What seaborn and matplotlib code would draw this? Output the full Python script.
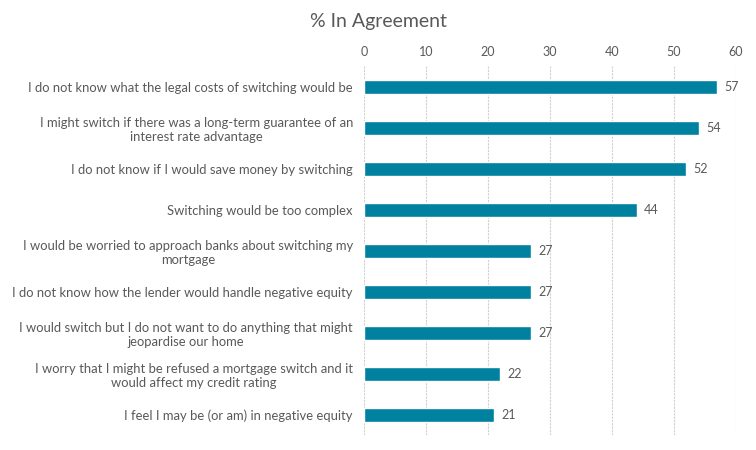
import pandas as pd
import seaborn as sns
import matplotlib.pyplot as plt

statements = [
    "I do not know what the legal costs of switching would be",
    "I might switch if there was a long-term guarantee of an\ninterest rate advantage",
    "I do not know if I would save money by switching",
    "Switching would be too complex",
    "I would be worried to approach banks about switching my\nmortgage",
    "I do not know how the lender would handle negative equity",
    "I would switch but I do not want to do anything that might\njeopardise our home",
    "I worry that I might be refused a mortgage switch and it\nwould affect my credit rating",
    "I feel I may be (or am) in negative equity",
]
agreement = [57, 54, 52, 44, 27, 27, 27, 22, 21]
x_ticks = [0, 10, 20, 30, 40, 50, 60]

df = pd.DataFrame({"statement": statements, "pct": agreement})

sns.set_style("white")
plt.rcParams["font.family"] = ["Lato", "DejaVu Sans"]
grey = "#595959"

fig = plt.figure(figsize=(7.56, 4.5), dpi=100)
ax = fig.add_axes([0.4815, 0.033, 0.492, 0.82])

sns.barplot(data=df, x="pct", y="statement", orient="h", color="#0081A0",
            width=0.34, saturation=1, ax=ax)

# value labels next to each bar
for i, v in enumerate(agreement):
    ax.text(v + 1.2, i, str(v), va="center", ha="left", fontsize=9, color=grey)

ax.set_xlim(0, 60)
ax.set_xticks(x_ticks)
ax.xaxis.tick_top()
ax.tick_params(axis="x", length=0, labelsize=9, colors=grey, pad=6)
ax.tick_params(axis="y", length=0, labelsize=9.4, colors=grey, pad=8)
for lab in ax.get_yticklabels():
    lab.set_multialignment("center")
ax.set_xlabel("")
ax.set_ylabel("")
ax.grid(axis="x", color="#d0d0d0", linestyle=(0, (2, 1)), linewidth=0.8)
ax.set_axisbelow(True)
for s in ax.spines.values():
    s.set_visible(False)

fig.suptitle("% In Agreement", y=0.97, fontsize=14, color=grey)

fig.savefig("out.png", dpi=100)
